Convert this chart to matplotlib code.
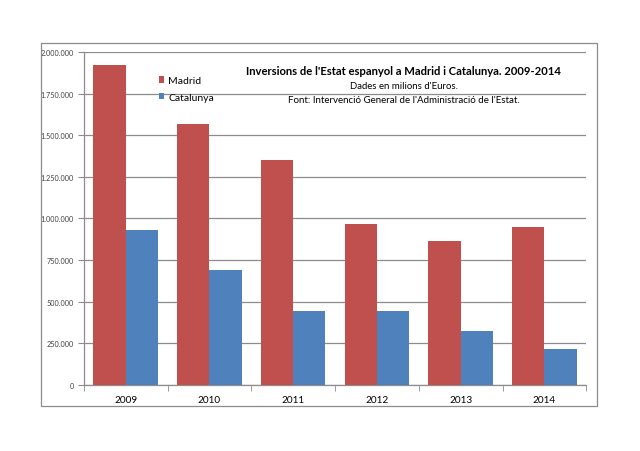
import numpy as np
import matplotlib.pyplot as plt
from matplotlib.patches import Rectangle
from matplotlib.ticker import FuncFormatter, FixedLocator

# Data (milions d'euros)
years = ['2009', '2010', '2011', '2012', '2013', '2014']
madrid = [1920000, 1566000, 1350000, 964000, 866000, 948000]
catalunya = [932000, 690000, 442000, 442000, 322000, 214000]

plt.rcParams['font.family'] = ['Lato', 'DejaVu Sans']

fig = plt.figure(figsize=(6.4, 4.52), dpi=100)
fig.patch.set_facecolor('white')

# outer chart border
fig.patches.append(Rectangle((0.064, 0.0996), 0.869, 0.803, transform=fig.transFigure,
                             fill=False, edgecolor='#8c8c8c', linewidth=0.9))

ax = fig.add_axes([0.131, 0.146, 0.785, 0.737])

x = np.arange(len(years))
w = 0.385
ax.bar(x - w / 2, madrid, w, color='#C0504D', label='Madrid', zorder=3)
ax.bar(x + w / 2, catalunya, w, color='#4F81BD', label='Catalunya', zorder=3)

ax.set_xlim(-0.5, len(years) - 0.5)
ax.set_ylim(0, 2000000)
ax.set_yticks(np.arange(0, 2000001, 250000))
ax.yaxis.set_major_formatter(FuncFormatter(lambda v, p: f'{int(v):,}'.replace(',', '.')))
ax.grid(axis='y', color='#8c8c8c', linewidth=0.9, zorder=0)

ax.set_xticks(x)
ax.set_xticklabels(years, fontsize=7.2)
ax.xaxis.set_minor_locator(FixedLocator(np.arange(-0.5, len(years), 1)))
ax.tick_params(axis='x', which='major', length=0, pad=7)
ax.tick_params(axis='x', which='minor', length=4, color='#8c8c8c')
ax.tick_params(axis='y', labelsize=5.2, colors='#404040', length=4, color='#8c8c8c', pad=3)
ax.tick_params(axis='x', labelcolor='black')

for s in ['top', 'right']:
    ax.spines[s].set_visible(False)
for s in ['left', 'bottom']:
    ax.spines[s].set_color('#8c8c8c')
    ax.spines[s].set_linewidth(0.9)

ax.legend(loc='upper left', bbox_to_anchor=(0.13, 0.955), frameon=False, fontsize=7.5,
          handlelength=0.55, handleheight=0.55, handletextpad=0.4, labelspacing=0.7)

fig.text(0.631, 0.842, "Inversions de l'Estat espanyol a Madrid i Catalunya. 2009-2014",
         ha='center', va='center', fontsize=8.1, fontweight='bold')
fig.text(0.631, 0.809, "Dades en milions d'Euros.", ha='center', va='center', fontsize=6.9)
fig.text(0.631, 0.778, "Font: Intervenció General de l'Administració de l'Estat.",
         ha='center', va='center', fontsize=7.0)

fig.savefig('out.png', dpi=100)
